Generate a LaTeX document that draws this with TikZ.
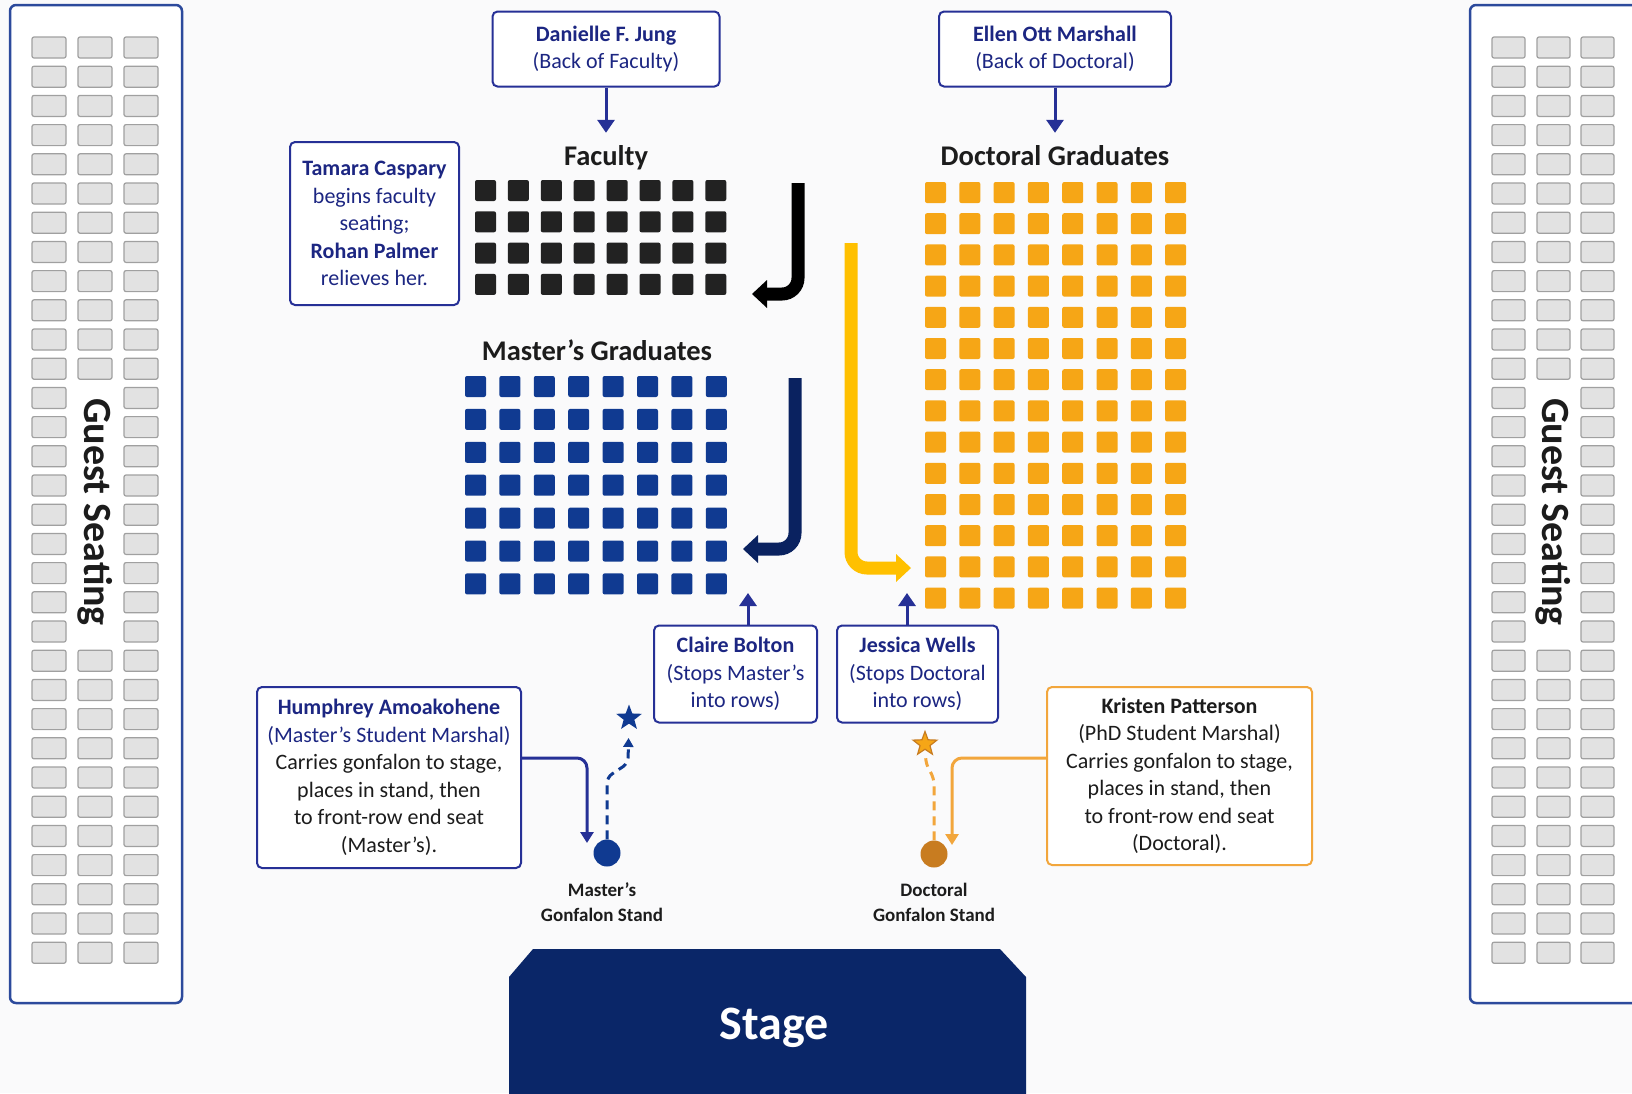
\documentclass[tikz,border=0pt]{standalone}
\usepackage{fontspec}
\setmainfont{Carlito}
\usetikzlibrary{arrows.meta,positioning,shapes.geometric}

\definecolor{boxblue}{RGB}{38,48,150}
\definecolor{textblue}{RGB}{28,38,130}
\definecolor{inkblack}{RGB}{28,28,28}
\definecolor{facblack}{RGB}{34,34,34}
\definecolor{mastblue}{RGB}{16,58,145}
\definecolor{docorange}{RGB}{246,166,22}
\definecolor{flownavy}{RGB}{10,34,96}
\definecolor{flowgold}{RGB}{255,192,0}
\definecolor{stagenavy}{RGB}{10,38,104}
\definecolor{phdorange}{RGB}{242,166,60}
\definecolor{docstand}{RGB}{200,124,32}
\definecolor{seatgray}{RGB}{226,226,226}
\definecolor{seatedge}{RGB}{160,160,160}
\definecolor{panelblue}{RGB}{44,74,156}
\definecolor{pagebg}{RGB}{250,250,251}

\tikzset{
  infobox/.style={draw=boxblue, line width=2pt, rounded corners=5pt, fill=white,
    align=center, text=textblue, inner sep=0pt,
    font=\fontsize{22}{27.5}\selectfont},
  header/.style={anchor=base, inner sep=0pt, text=inkblack,
    font=\bfseries\fontsize{28.5}{30}\selectfont},
  standlabel/.style={inner sep=0pt, align=center, text=inkblack,
    font=\bfseries\fontsize{19}{25}\selectfont},
  guestlabel/.style={rotate=-90, inner sep=0pt, text=inkblack,
    font=\bfseries\fontsize{40}{40}\selectfont},
  pointer/.style={line width=3pt, -{Triangle[length=13pt,width=17pt]}},
  handoff/.style={line width=3pt, rounded corners=10pt, -{Triangle[length=11pt,width=13pt]}},
  carry/.style={line width=3pt, rounded corners=6pt, dash pattern=on 9pt off 6pt},
  flow/.style={line width=13pt, rounded corners=16pt,
    -{Triangle[length=15pt,width=28pt,line width=0pt]}},
  seat/.style={fill=seatgray, draw=seatedge, line width=1.2pt, rounded corners=2pt},
  panel/.style={draw=panelblue, line width=2.5pt, rounded corners=6pt, fill=white},
  stand/.style={circle, inner sep=0pt, minimum size=27pt},
  marker/.style={star, star points=5, star point ratio=2.4, inner sep=0pt}
}

\begin{document}
\begin{tikzpicture}[x=1pt,y=-1pt]
  \useasboundingbox (0,0) rectangle (1632,1093);
  \fill[pagebg] (0,0) rectangle (1632,1093);

  % guest seating
  \draw[panel] (10,5) rectangle (182,1003);
  \draw[panel] (1470,5) rectangle (1660,1003);
  \foreach \r in {0,...,31} {
    \foreach \cx in {32,124} \draw[seat] (\cx,{37+29.2*\r}) rectangle ++(34,21);
    \foreach \cx in {1492,1581} \draw[seat] (\cx,{37+29.2*\r}) rectangle ++(33,21);
  }
  \foreach \r in {0,...,11,21,22,...,31} {
    \draw[seat] (78,{37+29.2*\r}) rectangle ++(34,21);
    \draw[seat] (1537,{37+29.2*\r}) rectangle ++(33,21);
  }
  \node[guestlabel] (guestleft) at (95,512) {Guest Seating};
  \node[guestlabel] (guestright) at (1553,512) {Guest Seating};

  % seating blocks
  \node[header] (faculty) at (606,165) {Faculty};
  \node[header] (doctoral) at (1055,165) {Doctoral Graduates};
  \node[header] (masters) at (597,360) {Master's Graduates};
  \foreach \c in {0,...,7} {
    \foreach \r in {0,...,3}
      \fill[facblack, rounded corners=2pt] ({475+32.9*\c},{180+31.3*\r}) rectangle ++(21,21);
    \foreach \r in {0,...,6}
      \fill[mastblue, rounded corners=2pt] ({465+34.4*\c},{376+32.9*\r}) rectangle ++(21,21);
    \foreach \r in {0,...,13}
      \fill[docorange, rounded corners=2pt] ({925+34.3*\c},{182+31.2*\r}) rectangle ++(21,21);
  }

  % people
  \node[infobox, minimum width=227pt, minimum height=75pt] (danielle) at (606,49)
    {\textbf{Danielle F. Jung}\\(Back of Faculty)};
  \node[infobox, minimum width=232pt, minimum height=75pt] (ellen) at (1055,49)
    {\textbf{Ellen Ott Marshall}\\(Back of Doctoral)};
  \node[infobox, minimum width=169pt, minimum height=163pt] (tamara) at (374.5,223.5)
    {\textbf{Tamara Caspary}\\begins faculty\\seating;\\\textbf{Rohan Palmer}\\relieves her.};
  \node[infobox, minimum width=163pt, minimum height=97pt] (claire) at (735.5,674)
    {\textbf{Claire Bolton}\\(Stops Master's\\into rows)};
  \node[infobox, minimum width=161pt, minimum height=97pt] (jessica) at (917.5,674)
    {\textbf{Jessica Wells}\\(Stops Doctoral\\into rows)};
  \node[infobox, minimum width=264pt, minimum height=181pt] (humphrey) at (389,777.5)
    {\textbf{Humphrey Amoakohene}\\(Master's Student Marshal)\\
     \textcolor{inkblack}{Carries gonfalon to stage,}\\
     \textcolor{inkblack}{places in stand, then}\\
     \textcolor{inkblack}{to front-row end seat}\\
     \textcolor{inkblack}{(Master's).}};
  \node[infobox, draw=phdorange, text=inkblack, minimum width=265pt, minimum height=178pt]
    (kristen) at (1179.5,776)
    {\textbf{Kristen Patterson}\\(PhD Student Marshal)\\Carries gonfalon to stage,\\
     places in stand, then\\to front-row end seat\\(Doctoral).};

  \draw[pointer, boxblue, shorten >=12pt] (danielle) -- (faculty);
  \draw[pointer, boxblue, shorten >=12pt] (ellen) -- (doctoral);
  \coordinate (mrowtip) at (748,593);
  \coordinate (drowtip) at (907,593);
  \draw[pointer, boxblue] (claire.north -| mrowtip) -- (mrowtip);
  \draw[pointer, boxblue] (jessica.north -| drowtip) -- (drowtip);

  % processional flow
  \coordinate (facin) at (798,183);
  \coordinate (facout) at (752,294);
  \coordinate (mastin) at (795,378);
  \coordinate (mastout) at (743,549);
  \coordinate (docin) at (851,243);
  \coordinate (docout) at (911,568);
  \draw[flow, black] (facin) |- (facout);
  \draw[flow, flownavy] (mastin) |- (mastout);
  \draw[flow, flowgold] (docin) |- (docout);

  % gonfalons
  \node[stand, fill=mastblue] (mstand) at (607,853) {};
  \node[stand, fill=docstand] (dstand) at (934,854) {};
  \node[standlabel, below=16pt of mstand, xshift=-5pt] (mlabel) {Master's\\Gonfalon Stand};
  \node[standlabel, below=15pt of dstand] (dlabel) {Doctoral\\Gonfalon Stand};
  \node[marker, fill=mastblue, minimum size=27pt] (mstar) at (629,718) {};
  \node[marker, fill=docorange, draw=docstand, line width=1.2pt, minimum size=25pt]
    (dstar) at (925,744) {};
  \coordinate (mhand) at (587,843);
  \coordinate (dhand) at (952,845);
  \draw[handoff, boxblue] ([yshift=19.5pt]humphrey.east) -| (mhand);
  \draw[handoff, phdorange] ([yshift=18pt]kristen.west) -| (dhand);
  \draw[carry, mastblue, -{Triangle[length=9pt,width=10pt]}, shorten >=14pt]
    (mstand.north) -- ++(0,-62) -- ++(21,-14) -- (mstar);
  \draw[carry, phdorange, shorten >=9pt]
    (dstand.north) -- ++(0,-62) -- ++(-8,-14) -- (dstar);

  % stage
  \fill[stagenavy] (509,1100) -- (509,977) -- (533,949) -- (1000,949)
    -- (1026,977) -- (1026,1100) -- cycle;
  \node[anchor=base, inner sep=0pt, text=white, font=\bfseries\fontsize{48}{50}\selectfont]
    (stage) at (774,1039) {Stage};
\end{tikzpicture}
\end{document}
